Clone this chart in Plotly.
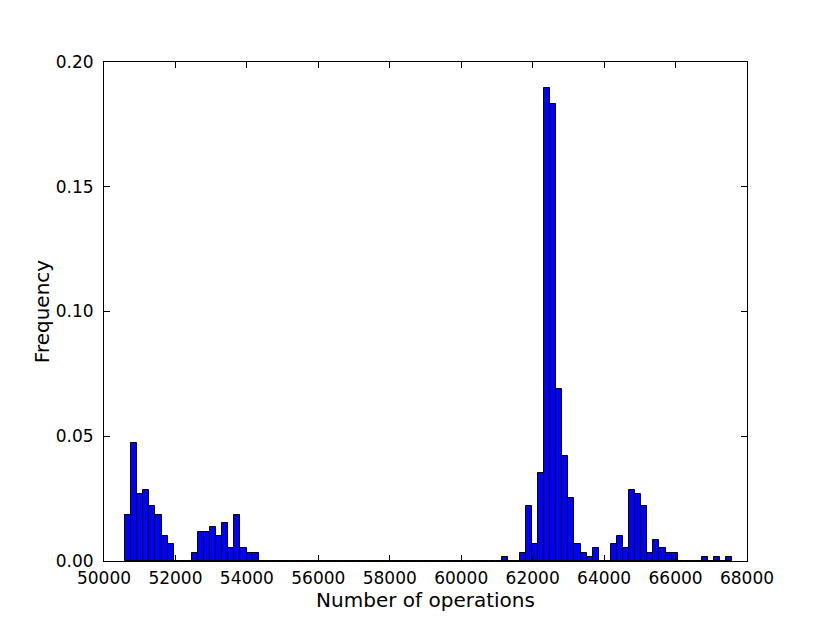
import numpy as np
import plotly.graph_objects as go

# histogram of operation counts, 100 bins
bin_start = 50590
bin_width = 170
frequency = [
    0.0185, 0.0471, 0.0269, 0.0286, 0.0219, 0.0185, 0.0101, 0.0067, 0.0, 0.0,
    0.0, 0.0034, 0.0118, 0.0118, 0.0135, 0.0101, 0.0152, 0.0051, 0.0185, 0.0051,
    0.0034, 0.0034, 0.0, 0.0, 0.0, 0.0, 0.0, 0.0, 0.0, 0.0,
    0.0, 0.0, 0.0, 0.0, 0.0, 0.0, 0.0, 0.0, 0.0, 0.0,
    0.0, 0.0, 0.0, 0.0, 0.0, 0.0, 0.0, 0.0, 0.0, 0.0,
    0.0, 0.0, 0.0, 0.0, 0.0, 0.0, 0.0, 0.0, 0.0, 0.0,
    0.0, 0.0, 0.0017, 0.0, 0.0, 0.0034, 0.0219, 0.0067, 0.0354, 0.1894,
    0.1831, 0.0690, 0.0421, 0.0253, 0.0067, 0.0034, 0.0017, 0.0051, 0.0, 0.0,
    0.0067, 0.0101, 0.0051, 0.0286, 0.0269, 0.0219, 0.0034, 0.0084, 0.0051, 0.0034,
    0.0034, 0.0, 0.0, 0.0, 0.0, 0.0017, 0.0, 0.0017, 0.0, 0.0017,
]
x_ticks = [50000, 52000, 54000, 56000, 58000, 60000, 62000, 64000, 66000, 68000]
y_ticks = [0.0, 0.05, 0.10, 0.15, 0.20]

centers = bin_start + bin_width * (np.arange(len(frequency)) + 0.5)

fig = go.Figure(
    go.Bar(
        x=centers,
        y=frequency,
        width=bin_width,
        marker=dict(color="#0000ff", line=dict(color="black", width=1)),
    )
)

axis_style = dict(
    showline=True, linecolor="black", linewidth=1, mirror="allticks",
    ticks="inside", ticklen=6, tickcolor="black", showgrid=False, zeroline=False,
)
fig.update_xaxes(range=[50000, 68000], tickvals=x_ticks,
                 ticktext=[str(v) for v in x_ticks], ticklabelstandoff=2,
                 title=dict(text="Number of operations", standoff=2), **axis_style)
fig.update_yaxes(range=[0, 0.2], tickvals=y_ticks, tickformat=".2f",
                 ticklabelstandoff=6,
                 title=dict(text="Frequency", standoff=0), **axis_style)
# page body adds an 8px margin, so the figure is a bit smaller than the window
fig.update_layout(
    width=822, height=615,
    margin=dict(l=96, r=83, t=54, b=62),
    plot_bgcolor="white", paper_bgcolor="white",
    font=dict(family="DejaVu Sans", size=17, color="black"),
    bargap=0, showlegend=False,
)

fig.write_html("out.html")
